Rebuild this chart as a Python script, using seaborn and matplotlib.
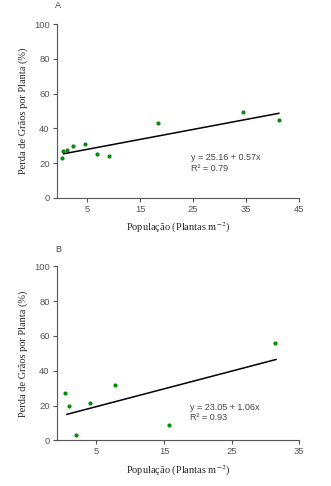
import matplotlib
matplotlib.use("Agg")
import matplotlib.pyplot as plt
import seaborn as sns
import pandas as pd

# Panel A data
popA = [0.2, 0.5, 1.1, 2.3, 4.6, 6.8, 9.1, 18.4, 34.3, 41.1]
lossA = [23.0, 27.2, 27.6, 29.9, 30.8, 25.3, 23.9, 42.9, 49.2, 44.6]
fitA_x = [0.5, 41.2]
fitA_y = [25.4, 48.7]
eqA = "y = 25.16 + 0.57x"
r2A = "R² = 0.79"
ticksA = [5, 15, 25, 35, 45]

# Panel B data
popB = [0.4, 0.9, 1.9, 4.0, 7.8, 15.8, 31.4]
lossB = [27.0, 19.7, 3.0, 21.2, 32.0, 8.8, 55.7]
fitB_x = [0.6, 31.6]
fitB_y = [14.9, 46.5]
eqB = "y = 23.05 + 1.06x"
r2B = "R² = 0.93"
ticksB = [5, 15, 25, 35]

yticks = [0, 20, 40, 60, 80, 100]
ylabel = "Perda de Grãos por Planta (%)"
xlabel = "População (Plantas m$^{-2}$)"

sns.set_style("white")
plt.rcParams["font.family"] = ["Liberation Sans", "DejaVu Sans"]
plt.rcParams["mathtext.fontset"] = "stix"

fig = plt.figure(figsize=(3.31, 4.86), dpi=100)
axA = fig.add_axes([0.171, 0.5926, 0.733, 0.358])
axB = fig.add_axes([0.171, 0.094, 0.733, 0.358])

green = "#0a8a0a"
grey = "#555555"

def style(ax, xlim, xticks, eq, r2, tx, ty1, ty2, letter, ly):
    ax.set_xlim(*xlim)
    ax.set_ylim(0, 100)
    ax.set_xticks(xticks)
    ax.set_yticks(yticks)
    for s in ["top", "right"]:
        ax.spines[s].set_visible(False)
    for s in ["left", "bottom"]:
        ax.spines[s].set_color("#555555")
        ax.spines[s].set_linewidth(0.8)
    ax.tick_params(axis="both", direction="out", length=3, width=0.8,
                   color="#555555", labelsize=6.8, labelcolor=grey, pad=2,
                   left=True, bottom=True)
    ax.set_ylabel(ylabel, family="Liberation Serif", fontsize=7.5, labelpad=4)
    ax.set_xlabel(xlabel, family="Liberation Serif", fontsize=7.5, labelpad=5)
    ax.text(tx, ty1, eq, fontsize=6.5, color="#444444", va="center", ha="left")
    ax.text(tx, ty2, r2, fontsize=6.5, color="#444444", va="center", ha="left")
    fig.text(0.166, ly, letter, fontsize=6.5, color="#444444", va="center", ha="left")

dfA = pd.DataFrame({"x": popA, "y": lossA})
sns.scatterplot(data=dfA, x="x", y="y", ax=axA, color=green, s=9, linewidth=0)
sns.lineplot(x=fitA_x, y=fitA_y, ax=axA, color="black", linewidth=1.1)
style(axA, (-0.8, 45), ticksA, eqA, r2A, 24.5, 23.0, 16.7, "A", 1 - 6 / 486)

dfB = pd.DataFrame({"x": popB, "y": lossB})
sns.scatterplot(data=dfB, x="x", y="y", ax=axB, color=green, s=9, linewidth=0)
sns.lineplot(x=fitB_x, y=fitB_y, ax=axB, color="black", linewidth=1.1)
style(axB, (-0.9, 35), ticksB, eqB, r2B, 18.9, 19.1, 13.2, "B", 1 - 249.7 / 486)

fig.savefig("out.png", dpi=100, facecolor="white")
